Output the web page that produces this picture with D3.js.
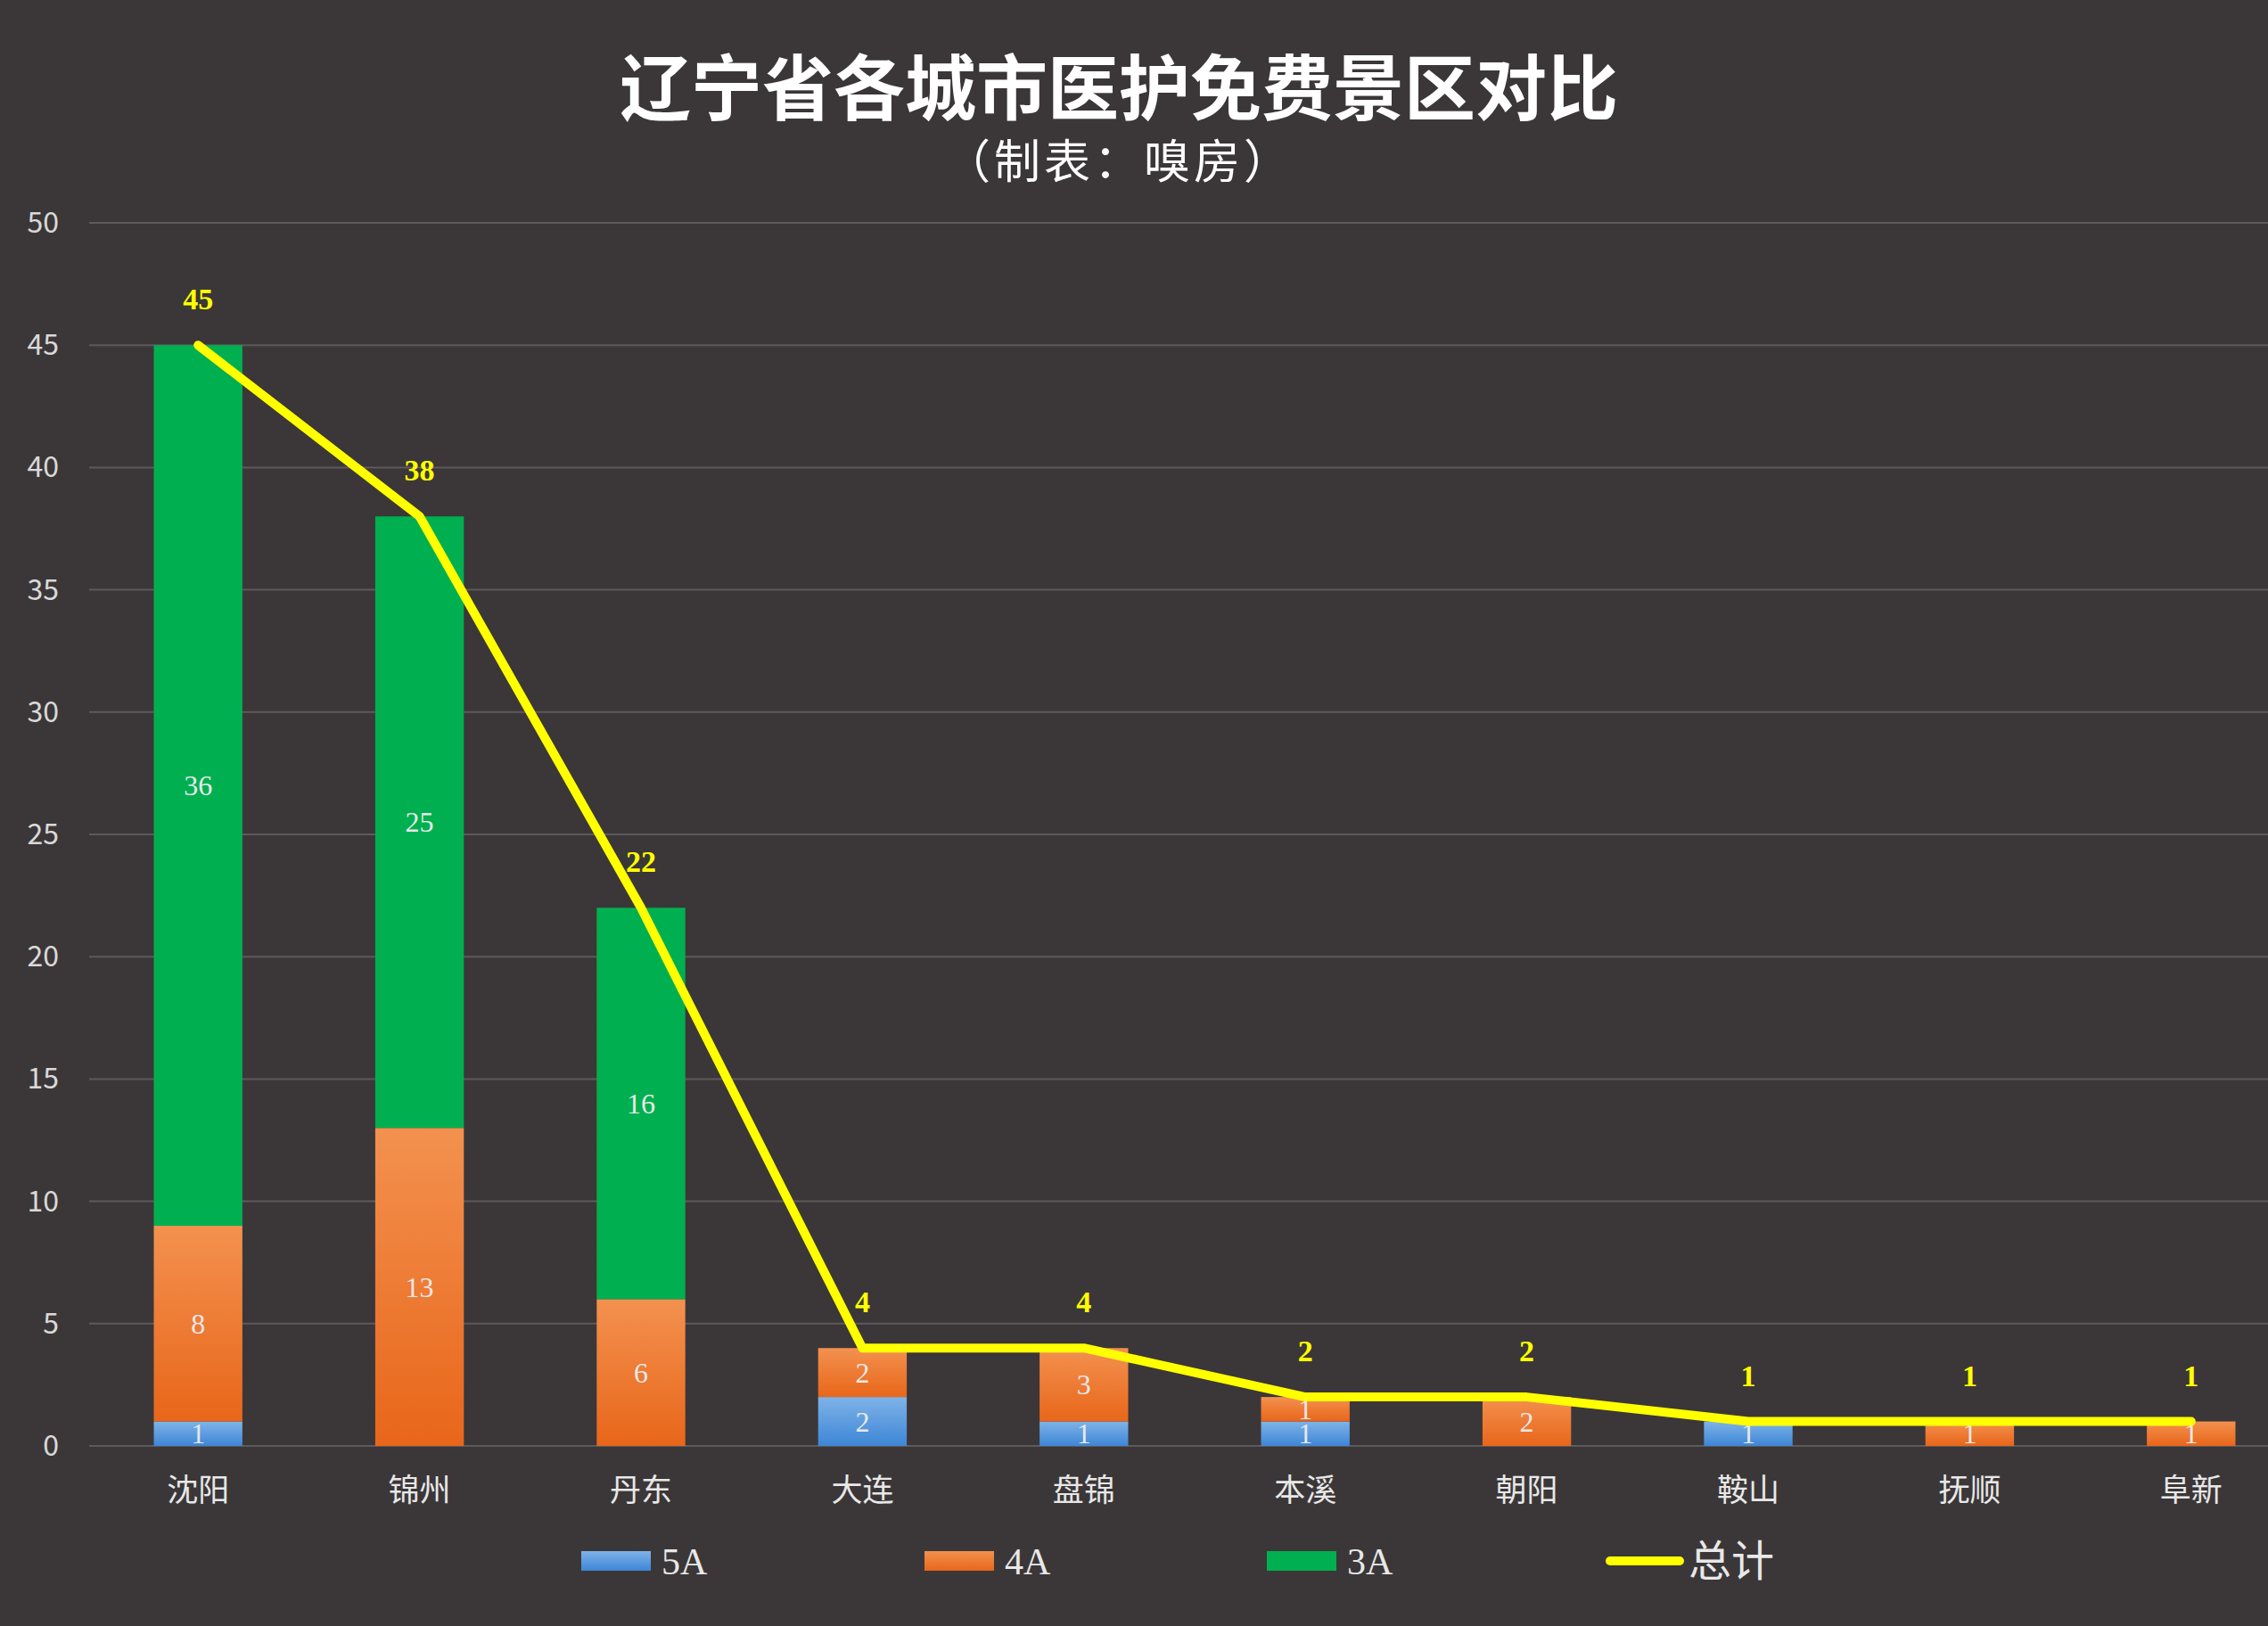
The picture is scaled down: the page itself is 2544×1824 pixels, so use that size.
<!DOCTYPE html>
<html>
<head>
<meta charset="utf-8">
<style>
body { margin: 0; background: #3b3738; }
text { font-family: "Noto Sans CJK SC", "Noto Sans", sans-serif; }
</style>
</head>
<body>
<script src="https://cdn.jsdelivr.net/npm/d3@7"></script>
<script>

var cities = ["沈阳", "锦州", "丹东", "大连", "盘锦", "本溪", "朝阳", "鞍山", "抚顺", "阜新"];
var a5 = [1, 0, 0, 2, 1, 1, 0, 1, 0, 0];
var a4 = [8, 13, 6, 2, 3, 1, 2, 0, 1, 1];
var a3 = [36, 25, 16, 0, 0, 0, 0, 0, 0, 0];
var totals = [45, 38, 22, 4, 4, 2, 2, 1, 1, 1];
var yTicks = [0, 5, 10, 15, 20, 25, 30, 35, 40, 45, 50];
var seriesNames = ["5A", "4A", "3A"];

var width = 2544, height = 1824;

var svg = d3.select("body").append("svg")
    .attr("width", width)
    .attr("height", height);

svg.append("rect").attr("width", width).attr("height", height).attr("fill", "#3b3738");

var defs = svg.append("defs");
function grad(id, top, bottom) {
  var g = defs.append("linearGradient").attr("id", id)
      .attr("x1", 0).attr("y1", 0).attr("x2", 0).attr("y2", 1);
  g.append("stop").attr("offset", "0%").attr("stop-color", top);
  g.append("stop").attr("offset", "100%").attr("stop-color", bottom);
}
grad("g5A", "#7fb3e8", "#3d86d6");
grad("g4A", "#f3914f", "#e8661a");
grad("g3A", "#00b050", "#00b050");

var x = d3.scaleBand().domain(cities).range([98, 2582]).paddingInner(0.6).paddingOuter(0.3);
var y = d3.scaleLinear().domain([0, 50]).range([1622, 250]);

// grid
svg.selectAll(".grid").data(yTicks).enter().append("line")
    .attr("x1", 100).attr("x2", width)
    .attr("y1", function(d) { return y(d); }).attr("y2", function(d) { return y(d); })
    .attr("stroke", "#5e5a5b").attr("stroke-width", 2);

svg.selectAll(".ytick").data(yTicks).enter().append("text")
    .attr("x", 66).attr("y", function(d) { return y(d) + 11; })
    .attr("text-anchor", "end").attr("fill", "#d9d9d9").attr("font-size", 32)
    .text(function(d) { return d; });

var rows = cities.map(function(c, i) { return { city: c, "5A": a5[i], "4A": a4[i], "3A": a3[i] }; });
var stack = d3.stack().keys(seriesNames)(rows);

var layer = svg.selectAll(".layer").data(stack).enter().append("g")
    .attr("fill", function(d) { return "url(#g" + d.key + ")"; });

layer.selectAll("rect").data(function(d) { return d; }).enter().append("rect")
    .attr("x", function(d) { return x(d.data.city); })
    .attr("width", x.bandwidth())
    .attr("y", function(d) { return y(d[1]); })
    .attr("height", function(d) { return y(d[0]) - y(d[1]); });

layer.selectAll("text").data(function(d) { return d.filter(function(e) { return e[1] > e[0]; }); })
  .enter().append("text")
    .attr("x", function(d) { return x(d.data.city) + x.bandwidth() / 2; })
    .attr("y", function(d) { return (y(d[0]) + y(d[1])) / 2 + 11; })
    .attr("text-anchor", "middle").attr("fill", "#e8e8e8").attr("font-size", 32)
    .style("font-family", "'Liberation Serif', serif")
    .text(function(d) { return d[1] - d[0]; });

// total line
var cx = function(d, i) { return x(cities[i]) + x.bandwidth() / 2; };
svg.append("path")
    .attr("d", d3.line().x(cx).y(function(d) { return y(d); })(totals))
    .attr("fill", "none").attr("stroke", "#ffff00").attr("stroke-width", 10)
    .attr("stroke-linejoin", "round").attr("stroke-linecap", "round");

svg.selectAll(".tot").data(totals).enter().append("text")
    .attr("x", cx).attr("y", function(d) { return y(d) - 40; })
    .attr("text-anchor", "middle").attr("fill", "#ffff00").attr("font-size", 34)
    .attr("font-weight", "bold")
    .style("font-family", "'Liberation Serif', serif")
    .text(function(d) { return d; });

// x labels
svg.selectAll(".xl").data(cities).enter().append("text")
    .attr("x", function(d) { return x(d) + x.bandwidth() / 2; })
    .attr("y", 1684).attr("text-anchor", "middle")
    .attr("fill", "#e8e8e8").attr("font-size", 35)
    .text(function(d) { return d; });

// title
svg.append("text").attr("x", 1255).attr("y", 128).attr("text-anchor", "middle")
    .attr("fill", "#ffffff").attr("font-size", 80).attr("font-weight", "bold")
    .text("辽宁省各城市医护免费景区对比");
svg.append("text").attr("x", 1255).attr("y", 200).attr("text-anchor", "middle")
    .attr("fill", "#ffffff").attr("font-size", 52).attr("letter-spacing", 4)
    .text("（制表：嗅房）");

// legend
var lx = [652, 1037, 1421];
seriesNames.forEach(function(s, i) {
  svg.append("rect").attr("x", lx[i]).attr("y", 1740).attr("width", 78).attr("height", 22)
      .attr("fill", "url(#g" + s + ")");
  svg.append("text").attr("x", lx[i] + 90).attr("y", 1766).attr("fill", "#e8e8e8")
      .attr("font-size", 42).style("font-family", "'Liberation Serif', serif").text(s);
});
svg.append("line").attr("x1", 1806).attr("x2", 1884).attr("y1", 1751).attr("y2", 1751)
    .attr("stroke", "#ffff00").attr("stroke-width", 10).attr("stroke-linecap", "round");
svg.append("text").attr("x", 1894).attr("y", 1768).attr("fill", "#e8e8e8")
    .attr("font-size", 48).text("总计");

</script>
</body>
</html>
